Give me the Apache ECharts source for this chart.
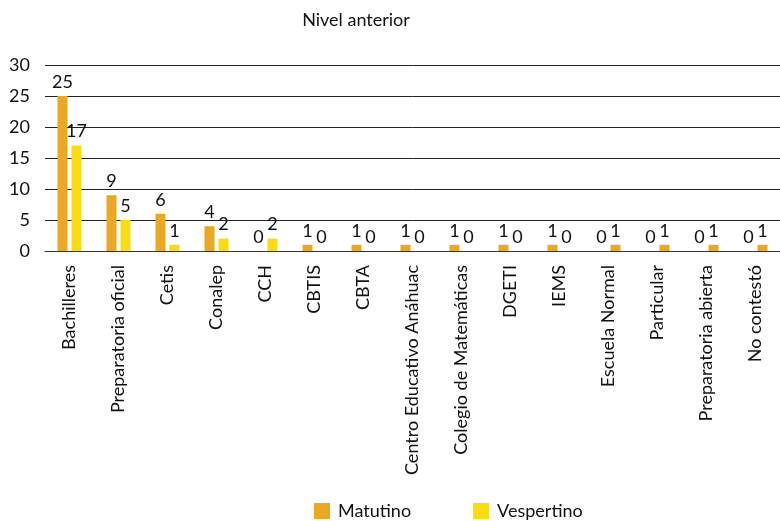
<!DOCTYPE html>
<html>
<head>
<meta charset="utf-8">
<script src="https://cdn.jsdelivr.net/npm/echarts@6/dist/echarts.min.js"></script>
<style>html,body{margin:0;padding:0;background:#fff;}#c{width:780px;height:521px;}</style>
</head>
<body>
<div id="c"></div>
<script>
const titleText = 'Nivel anterior';
const categories = ['Bachilleres','Preparatoria oficial','Cetis','Conalep','CCH','CBTIS','CBTA','Centro Educativo Anáhuac','Colegio de Matemáticas','DGETI','IEMS','Escuela Normal','Particular','Preparatoria abierta','No contestó'];
const seriesNames = ['Matutino','Vespertino'];
const matutino = [25, 9, 6, 4, 0, 1, 1, 1, 1, 1, 1, 0, 0, 0, 0];
const vespertino = [17, 5, 1, 2, 2, 0, 0, 0, 0, 0, 0, 1, 1, 1, 1];
const yTicks = [0, 5, 10, 15, 20, 25, 30];

const ORANGE = '#EBA823';
const YELLOW = '#FBDB12';
// in the reference, these Vespertino bars are drawn in the Matutino colour
const orangeVespIdx = [11, 12, 13, 14];
const FONT = 'Lato';

const chart = echarts.init(document.getElementById('c'), null, {renderer: 'canvas'});
const labelStyle = {show: true, position: 'top', distance: 5, color: '#111', fontFamily: FONT, fontSize: 18};
chart.setOption({
  animation: false,
  backgroundColor: '#fff',
  color: [ORANGE, YELLOW],
  textStyle: {fontFamily: FONT},
  title: {
    text: titleText, left: 351, textAlign: 'center', top: 6,
    textStyle: {fontFamily: FONT, fontSize: 18, fontWeight: 'normal', color: '#111'}
  },
  legend: {
    left: 309, top: 497, itemWidth: 16, itemHeight: 16, itemGap: 62,
    icon: 'rect',
    textStyle: {fontFamily: FONT, fontSize: 18, color: '#111', padding: [0, 0, 0, 3]},
    data: [
      {name: seriesNames[0], itemStyle: {color: ORANGE}},
      {name: seriesNames[1], itemStyle: {color: YELLOW}}
    ]
  },
  grid: {left: 45, right: -8, top: 65, bottom: 270, containLabel: false},
  xAxis: {
    type: 'category', data: categories,
    axisLine: {lineStyle: {color: '#333', width: 1}},
    axisTick: {show: false},
    axisLabel: {rotate: 90, interval: 0, margin: 14, color: '#111', fontFamily: FONT, fontSize: 18}
  },
  yAxis: {
    type: 'value', min: yTicks[0], max: yTicks[yTicks.length - 1], interval: 5,
    axisLine: {show: false}, axisTick: {show: false},
    splitLine: {lineStyle: {color: '#222', width: 1}},
    axisLabel: {margin: 15, color: '#111', fontFamily: FONT, fontSize: 18}
  },
  series: [
    {name: seriesNames[0], type: 'bar', data: matutino, barWidth: 10, barGap: '40%',
     itemStyle: {color: ORANGE}, label: labelStyle},
    {name: seriesNames[1], type: 'bar', data: vespertino, barWidth: 10, barGap: '40%',
     itemStyle: {color: p => orangeVespIdx.includes(p.dataIndex) ? ORANGE : YELLOW},
     label: labelStyle}
  ]
});
</script>
</body>
</html>
